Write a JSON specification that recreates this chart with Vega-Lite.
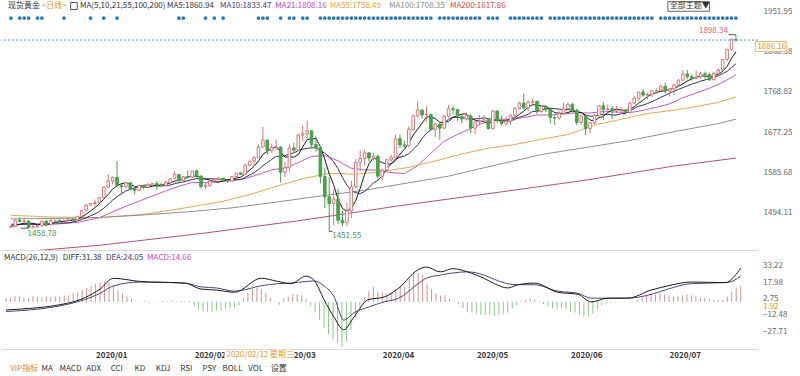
{
"$schema":"https://vega.github.io/schema/vega-lite/v6.json",
"padding":0,
"background":"#ffffff",
"spacing":2,
"config":{"view":{"stroke":null},"font":"Noto Sans CJK SC","axis":{"grid":false,"ticks":false,"domain":false,"title":null,"labelFontSize":8,"labelColor":"#666666","labelOverlap":false}},
"datasets":{
"k":[
{"i":0,"o":1461,"h":1466,"l":1460,"c":1463,"m5":1462,"m10":1466,"mh":4},
{"i":1,"o":1463,"h":1478,"l":1462,"c":1477,"m5":1465,"m10":1467,"mh":4},
{"i":2,"o":1477,"h":1484,"l":1472,"c":1474,"m5":1468,"m10":1467,"mh":5},
{"i":3,"o":1474,"h":1481,"l":1470,"c":1475,"m5":1470,"m10":1468,"mh":5},
{"i":4,"o":1475,"h":1477,"l":1458.78,"c":1460,"m5":1469.8,"m10":1468,"mh":4},
{"i":5,"o":1460,"h":1466,"l":1459.5,"c":1462,"m5":1469.6,"m10":1468,"mh":4},
{"i":6,"o":1462,"h":1467,"l":1460,"c":1465,"m5":1467.2,"m10":1468,"mh":5},
{"i":7,"o":1465,"h":1476,"l":1461,"c":1475,"m5":1467.4,"m10":1469,"mh":5},
{"i":8,"o":1475,"h":1477,"l":1463,"c":1467,"m5":1465.8,"m10":1468,"mh":4},
{"i":9,"o":1467,"h":1480,"l":1465,"c":1476,"m5":1469,"m10":1469.4,"mh":5},
{"i":10,"o":1476,"h":1478,"l":1472,"c":1476,"m5":1471.8,"m10":1470.7,"mh":5},
{"i":11,"o":1476,"h":1480,"l":1473,"c":1475,"m5":1473.8,"m10":1470.5,"mh":5},
{"i":12,"o":1475,"h":1479,"l":1473,"c":1476,"m5":1474,"m10":1470.7,"mh":5},
{"i":13,"o":1476,"h":1481,"l":1472,"c":1479,"m5":1476.4,"m10":1471.1,"mh":6},
{"i":14,"o":1479,"h":1481,"l":1476,"c":1478,"m5":1476.8,"m10":1472.9,"mh":6},
{"i":15,"o":1478,"h":1486,"l":1477,"c":1486,"m5":1478.8,"m10":1475.3,"mh":8},
{"i":16,"o":1486,"h":1500,"l":1485,"c":1499,"m5":1483.6,"m10":1478.7,"mh":9},
{"i":17,"o":1500,"h":1514,"l":1498,"c":1511,"m5":1490.6,"m10":1482.3,"mh":11},
{"i":18,"o":1511,"h":1516,"l":1509,"c":1515,"m5":1497.8,"m10":1487.1,"mh":13},
{"i":19,"o":1515,"h":1524,"l":1510,"c":1517,"m5":1505.6,"m10":1491.2,"mh":15},
{"i":20,"o":1517,"h":1529,"l":1516,"c":1528,"m5":1514,"m10":1496.4,"mh":17},
{"i":21,"o":1528,"h":1553,"l":1526,"c":1552,"m5":1524.6,"m10":1504.1,"mh":18},
{"i":22,"o":1552,"h":1582,"l":1551,"c":1566,"m5":1535.6,"m10":1513.1,"mh":19},
{"i":23,"o":1566,"h":1576,"l":1558,"c":1574,"m5":1547.4,"m10":1522.6,"mh":18},
{"i":24,"o":1574,"h":1611,"l":1553,"c":1556,"m5":1555.2,"m10":1530.4,"mh":15},
{"i":25,"o":1556,"h":1560,"l":1535,"c":1553,"m5":1560.2,"m10":1537.1,"mh":11},
{"i":26,"o":1553,"h":1563,"l":1549,"c":1562,"m5":1562.2,"m10":1543.4,"mh":8},
{"i":27,"o":1562,"h":1563,"l":1545,"c":1548,"m5":1558.6,"m10":1547.1,"mh":5},
{"i":28,"o":1548,"h":1550,"l":1536,"c":1545,"m5":1552.8,"m10":1550.1,"mh":3},
{"i":29,"o":1545,"h":1558,"l":1544,"c":1556,"m5":1552.8,"m10":1554,"mh":1},
{"i":30,"o":1556,"h":1557,"l":1547,"c":1552,"m5":1552.6,"m10":1556.4,"mh":0.5},
{"i":31,"o":1552,"h":1561,"l":1550,"c":1557,"m5":1551.6,"m10":1556.9,"mh":0.8},
{"i":32,"o":1557,"h":1562,"l":1554,"c":1560,"m5":1554,"m10":1556.3,"mh":-0.5},
{"i":33,"o":1560,"h":1566,"l":1546,"c":1558,"m5":1556.6,"m10":1554.7,"mh":0.5},
{"i":34,"o":1558,"h":1562,"l":1553,"c":1556,"m5":1556.6,"m10":1554.7,"mh":-0.4},
{"i":35,"o":1556,"h":1566,"l":1552,"c":1563,"m5":1558.8,"m10":1555.7,"mh":0.6},
{"i":36,"o":1563,"h":1573,"l":1560,"c":1571,"m5":1561.6,"m10":1556.6,"mh":0.8},
{"i":37,"o":1571,"h":1588,"l":1570,"c":1581,"m5":1565.8,"m10":1559.9,"mh":1},
{"i":38,"o":1581,"h":1582,"l":1563,"c":1567,"m5":1567.6,"m10":1562.1,"mh":0.5},
{"i":39,"o":1567,"h":1577,"l":1566,"c":1576,"m5":1571.6,"m10":1564.1,"mh":0.8},
{"i":40,"o":1576,"h":1590,"l":1573,"c":1575,"m5":1574,"m10":1566.4,"mh":0.5},
{"i":41,"o":1575,"h":1589,"l":1573,"c":1589,"m5":1577.6,"m10":1569.6,"mh":1},
{"i":42,"o":1589,"h":1592,"l":1572,"c":1577,"m5":1576.8,"m10":1571.3,"mh":-4},
{"i":43,"o":1577,"h":1579,"l":1549,"c":1553,"m5":1574,"m10":1570.8,"mh":-7},
{"i":44,"o":1553,"h":1563,"l":1547,"c":1556,"m5":1570,"m10":1570.8,"mh":-9},
{"i":45,"o":1556,"h":1568,"l":1553,"c":1566,"m5":1568.2,"m10":1571.1,"mh":-9},
{"i":46,"o":1566,"h":1573,"l":1562,"c":1570,"m5":1564.4,"m10":1571,"mh":-9},
{"i":47,"o":1570,"h":1576,"l":1567,"c":1572,"m5":1563.4,"m10":1570.1,"mh":-8},
{"i":48,"o":1572,"h":1574,"l":1563,"c":1567,"m5":1566.2,"m10":1570.1,"mh":-8},
{"i":49,"o":1567,"h":1570,"l":1562,"c":1566,"m5":1568.2,"m10":1569.1,"mh":-7},
{"i":50,"o":1566,"h":1578,"l":1563,"c":1576,"m5":1570.2,"m10":1569.2,"mh":-6},
{"i":51,"o":1576,"h":1585,"l":1572,"c":1584,"m5":1573,"m10":1568.7,"mh":-5},
{"i":52,"o":1584,"h":1586,"l":1579,"c":1581,"m5":1574.8,"m10":1569.1,"mh":-3},
{"i":53,"o":1581,"h":1604,"l":1579,"c":1602,"m5":1581.8,"m10":1574,"mh":4},
{"i":54,"o":1602,"h":1612,"l":1599,"c":1611,"m5":1590.8,"m10":1579.5,"mh":8},
{"i":55,"o":1611,"h":1623,"l":1600,"c":1619,"m5":1599.4,"m10":1584.8,"mh":12},
{"i":56,"o":1619,"h":1649,"l":1618,"c":1643,"m5":1611.2,"m10":1592.1,"mh":13},
{"i":57,"o":1643,"h":1689,"l":1643,"c":1659,"m5":1626.8,"m10":1600.8,"mh":12},
{"i":58,"o":1659,"h":1660,"l":1625,"c":1635,"m5":1633.4,"m10":1607.6,"mh":8},
{"i":59,"o":1635,"h":1651,"l":1630,"c":1642,"m5":1639.6,"m10":1615.2,"mh":4},
{"i":60,"o":1642,"h":1660,"l":1636,"c":1643,"m5":1644.2,"m10":1621.8,"mh":0.5},
{"i":61,"o":1643,"h":1645,"l":1563,"c":1586,"m5":1632.8,"m10":1622,"mh":-3},
{"i":62,"o":1586,"h":1610,"l":1575,"c":1596,"m5":1620.2,"m10":1623.5,"mh":3},
{"i":63,"o":1596,"h":1649,"l":1586,"c":1641,"m5":1621.4,"m10":1627.4,"mh":5},
{"i":64,"o":1641,"h":1653,"l":1632,"c":1636,"m5":1620.2,"m10":1629.9,"mh":7},
{"i":65,"o":1636,"h":1674,"l":1635,"c":1670,"m5":1625.8,"m10":1635,"mh":7},
{"i":66,"o":1670,"h":1692,"l":1656,"c":1673,"m5":1643.2,"m10":1638,"mh":6},
{"i":67,"o":1673,"h":1703,"l":1661,"c":1680,"m5":1660,"m10":1640.1,"mh":3},
{"i":68,"o":1680,"h":1681,"l":1640,"c":1649,"m5":1661.6,"m10":1641.5,"mh":-4},
{"i":69,"o":1649,"h":1667,"l":1633,"c":1642,"m5":1662.8,"m10":1641.5,"mh":-10},
{"i":70,"o":1642,"h":1645,"l":1560,"c":1576,"m5":1644,"m10":1634.9,"mh":-17},
{"i":71,"o":1576,"h":1597,"l":1504,"c":1530,"m5":1615.4,"m10":1629.3,"mh":-24},
{"i":72,"o":1530,"h":1575,"l":1451.55,"c":1515,"m5":1582.4,"m10":1621.2,"mh":-30},
{"i":73,"o":1515,"h":1547,"l":1466,"c":1525,"m5":1557.6,"m10":1609.6,"mh":-35},
{"i":74,"o":1525,"h":1548,"l":1468,"c":1477,"m5":1524.6,"m10":1593.7,"mh":-38},
{"i":75,"o":1477,"h":1499,"l":1463,"c":1471,"m5":1503.6,"m10":1573.8,"mh":-42},
{"i":76,"o":1471,"h":1516,"l":1464,"c":1498,"m5":1497.2,"m10":1556.3,"mh":-37},
{"i":77,"o":1498,"h":1567,"l":1482,"c":1553,"m5":1504.8,"m10":1543.6,"mh":-26},
{"i":78,"o":1553,"h":1616,"l":1550,"c":1608,"m5":1521.4,"m10":1539.5,"mh":-15},
{"i":79,"o":1608,"h":1635,"l":1588,"c":1617,"m5":1549.4,"m10":1537,"mh":-6},
{"i":80,"o":1617,"h":1637,"l":1601,"c":1630,"m5":1581.2,"m10":1542.4,"mh":4},
{"i":81,"o":1630,"h":1631,"l":1610,"c":1618,"m5":1605.2,"m10":1551.2,"mh":10},
{"i":82,"o":1618,"h":1630,"l":1612,"c":1622,"m5":1619,"m10":1561.9,"mh":14},
{"i":83,"o":1622,"h":1626,"l":1568,"c":1577,"m5":1612.8,"m10":1567.1,"mh":10},
{"i":84,"o":1577,"h":1594,"l":1567,"c":1591,"m5":1607.6,"m10":1578.5,"mh":9},
{"i":85,"o":1591,"h":1617,"l":1588,"c":1614,"m5":1604.4,"m10":1592.8,"mh":8},
{"i":86,"o":1614,"h":1625,"l":1608,"c":1620,"m5":1604.8,"m10":1605,"mh":9},
{"i":87,"o":1620,"h":1672,"l":1619,"c":1662,"m5":1612.8,"m10":1615.9,"mh":12},
{"i":88,"o":1662,"h":1671,"l":1641,"c":1648,"m5":1627,"m10":1619.9,"mh":14},
{"i":89,"o":1648,"h":1658,"l":1640,"c":1646,"m5":1638,"m10":1622.8,"mh":14},
{"i":90,"o":1646,"h":1690,"l":1642,"c":1683,"m5":1651.8,"m10":1628.1,"mh":22},
{"i":91,"o":1683,"h":1717,"l":1680,"c":1714,"m5":1670.6,"m10":1637.7,"mh":28},
{"i":92,"o":1714,"h":1747,"l":1710,"c":1727,"m5":1683.6,"m10":1648.2,"mh":27},
{"i":93,"o":1727,"h":1729,"l":1708,"c":1716,"m5":1697.2,"m10":1662.1,"mh":25},
{"i":94,"o":1716,"h":1736,"l":1701,"c":1717,"m5":1711.4,"m10":1674.7,"mh":17},
{"i":95,"o":1717,"h":1718,"l":1680,"c":1683,"m5":1711.4,"m10":1681.6,"mh":12},
{"i":96,"o":1683,"h":1698,"l":1666,"c":1695,"m5":1707.6,"m10":1689.1,"mh":8},
{"i":97,"o":1695,"h":1699,"l":1660,"c":1686,"m5":1699.4,"m10":1691.5,"mh":6},
{"i":98,"o":1686,"h":1716,"l":1684,"c":1713,"m5":1698.8,"m10":1698,"mh":6},
{"i":99,"o":1713,"h":1739,"l":1710,"c":1730,"m5":1701.4,"m10":1706.4,"mh":3},
{"i":100,"o":1730,"h":1738,"l":1717,"c":1728,"m5":1710.4,"m10":1710.9,"mh":1},
{"i":101,"o":1728,"h":1729,"l":1702,"c":1713,"m5":1714,"m10":1710.8,"mh":-2},
{"i":102,"o":1713,"h":1718,"l":1697,"c":1707,"m5":1718.2,"m10":1708.8,"mh":-6},
{"i":103,"o":1707,"h":1722,"l":1703,"c":1714,"m5":1718.4,"m10":1708.6,"mh":-9},
{"i":104,"o":1714,"h":1718,"l":1675,"c":1686,"m5":1709.6,"m10":1705.5,"mh":-10},
{"i":105,"o":1686,"h":1703,"l":1673,"c":1700,"m5":1704,"m10":1707.2,"mh":-11},
{"i":106,"o":1700,"h":1716,"l":1693,"c":1702,"m5":1701.8,"m10":1707.9,"mh":-12},
{"i":107,"o":1702,"h":1716,"l":1695,"c":1705,"m5":1701.4,"m10":1709.8,"mh":-12},
{"i":108,"o":1705,"h":1709,"l":1683,"c":1685,"m5":1695.6,"m10":1707,"mh":-12},
{"i":109,"o":1685,"h":1727,"l":1683,"c":1725,"m5":1703.4,"m10":1706.5,"mh":-13},
{"i":110,"o":1725,"h":1727,"l":1698,"c":1703,"m5":1704,"m10":1704,"mh":-12},
{"i":111,"o":1703,"h":1715,"l":1692,"c":1697,"m5":1703,"m10":1702.4,"mh":-11},
{"i":112,"o":1697,"h":1712,"l":1692,"c":1702,"m5":1702.4,"m10":1701.9,"mh":-10},
{"i":113,"o":1702,"h":1717,"l":1694,"c":1715,"m5":1708.4,"m10":1702,"mh":-6},
{"i":114,"o":1715,"h":1734,"l":1703,"c":1731,"m5":1709.6,"m10":1706.5,"mh":-3},
{"i":115,"o":1731,"h":1746,"l":1729,"c":1743,"m5":1717.6,"m10":1710.8,"mh":1},
{"i":116,"o":1743,"h":1765,"l":1728,"c":1732,"m5":1724.6,"m10":1713.8,"mh":2},
{"i":117,"o":1732,"h":1749,"l":1725,"c":1745,"m5":1733.2,"m10":1717.8,"mh":3},
{"i":118,"o":1745,"h":1753,"l":1740,"c":1747,"m5":1739.6,"m10":1724,"mh":2},
{"i":119,"o":1747,"h":1748,"l":1718,"c":1724,"m5":1738.2,"m10":1723.9,"mh":0.5},
{"i":120,"o":1724,"h":1738,"l":1721,"c":1735,"m5":1736.6,"m10":1727.1,"mh":-2},
{"i":121,"o":1735,"h":1737,"l":1722,"c":1728,"m5":1735.8,"m10":1730.2,"mh":-4},
{"i":122,"o":1728,"h":1734,"l":1697,"c":1710,"m5":1728.8,"m10":1731,"mh":-6},
{"i":123,"o":1710,"h":1716,"l":1694,"c":1709,"m5":1721.2,"m10":1730.4,"mh":-7},
{"i":124,"o":1709,"h":1725,"l":1705,"c":1719,"m5":1720.2,"m10":1729.2,"mh":-6},
{"i":125,"o":1719,"h":1744,"l":1716,"c":1730,"m5":1719.2,"m10":1727.9,"mh":-7},
{"i":126,"o":1730,"h":1745,"l":1725,"c":1740,"m5":1721.6,"m10":1728.7,"mh":-9},
{"i":127,"o":1740,"h":1744,"l":1723,"c":1727,"m5":1725,"m10":1726.9,"mh":-10},
{"i":128,"o":1727,"h":1729,"l":1693,"c":1699,"m5":1723,"m10":1722.1,"mh":-12},
{"i":129,"o":1699,"h":1716,"l":1694,"c":1714,"m5":1722,"m10":1721.1,"mh":-14},
{"i":130,"o":1714,"h":1718,"l":1670,"c":1685,"m5":1713,"m10":1716.1,"mh":-14},
{"i":131,"o":1685,"h":1700,"l":1674,"c":1698,"m5":1704.6,"m10":1713.1,"mh":-11},
{"i":132,"o":1698,"h":1718,"l":1694,"c":1715,"m5":1702.2,"m10":1713.6,"mh":-7},
{"i":133,"o":1715,"h":1739,"l":1712,"c":1737,"m5":1709.8,"m10":1716.4,"mh":-3},
{"i":134,"o":1737,"h":1745,"l":1705,"c":1728,"m5":1712.6,"m10":1717.3,"mh":-1.5},
{"i":135,"o":1728,"h":1740,"l":1714,"c":1730,"m5":1721.6,"m10":1717.3,"mh":-1},
{"i":136,"o":1730,"h":1736,"l":1707,"c":1725,"m5":1727,"m10":1715.8,"mh":-0.8},
{"i":137,"o":1725,"h":1736,"l":1720,"c":1727,"m5":1729.4,"m10":1715.8,"mh":-0.5},
{"i":138,"o":1726,"h":1734,"l":1721,"c":1727,"m5":1727.4,"m10":1718.6,"mh":-0.5},
{"i":139,"o":1727,"h":1730,"l":1716,"c":1722,"m5":1726.2,"m10":1719.4,"mh":-0.3},
{"i":140,"o":1722,"h":1746,"l":1719,"c":1743,"m5":1728.8,"m10":1725.2,"mh":0.3},
{"i":141,"o":1743,"h":1760,"l":1741,"c":1754,"m5":1734.6,"m10":1730.8,"mh":2},
{"i":142,"o":1754,"h":1768,"l":1749,"c":1768,"m5":1742.8,"m10":1736.1,"mh":4},
{"i":143,"o":1768,"h":1775,"l":1757,"c":1761,"m5":1749.6,"m10":1738.5,"mh":6},
{"i":144,"o":1761,"h":1767,"l":1751,"c":1763,"m5":1757.8,"m10":1742,"mh":7},
{"i":145,"o":1763,"h":1772,"l":1756,"c":1771,"m5":1763.4,"m10":1746.1,"mh":7},
{"i":146,"o":1771,"h":1776,"l":1764,"c":1772,"m5":1767,"m10":1750.8,"mh":8},
{"i":147,"o":1772,"h":1785,"l":1770,"c":1781,"m5":1769.6,"m10":1756.2,"mh":7},
{"i":148,"o":1781,"h":1789,"l":1764,"c":1770,"m5":1771.4,"m10":1760.5,"mh":6},
{"i":149,"o":1770,"h":1777,"l":1758,"c":1775,"m5":1773.8,"m10":1765.8,"mh":5},
{"i":150,"o":1775,"h":1786,"l":1762,"c":1784,"m5":1776.4,"m10":1769.9,"mh":5},
{"i":151,"o":1784,"h":1797,"l":1782,"c":1795,"m5":1781,"m10":1774,"mh":6},
{"i":152,"o":1795,"h":1818,"l":1794,"c":1809,"m5":1786.6,"m10":1778.1,"mh":7},
{"i":153,"o":1809,"h":1818,"l":1797,"c":1803,"m5":1793.2,"m10":1782.3,"mh":6},
{"i":154,"o":1803,"h":1808,"l":1794,"c":1799,"m5":1798,"m10":1785.9,"mh":5},
{"i":155,"o":1799,"h":1817,"l":1797,"c":1802,"m5":1801.6,"m10":1789,"mh":4},
{"i":156,"o":1802,"h":1814,"l":1799,"c":1810,"m5":1804.6,"m10":1792.8,"mh":4},
{"i":157,"o":1810,"h":1815,"l":1798,"c":1808,"m5":1804.4,"m10":1795.5,"mh":3},
{"i":158,"o":1808,"h":1812,"l":1793,"c":1796,"m5":1803,"m10":1798.1,"mh":2},
{"i":159,"o":1796,"h":1814,"l":1795,"c":1810,"m5":1805.2,"m10":1801.6,"mh":1.5},
{"i":160,"o":1810,"h":1821,"l":1806,"c":1818,"m5":1808.4,"m10":1805,"mh":2},
{"i":161,"o":1818,"h":1843,"l":1815,"c":1842,"m5":1814.8,"m10":1809.7,"mh":5},
{"i":162,"o":1842,"h":1866,"l":1838,"c":1865,"m5":1826.2,"m10":1815.3,"mh":9},
{"i":163,"o":1865,"h":1890,"l":1862,"c":1887,"m5":1844.4,"m10":1823.7,"mh":13},
{"i":164,"o":1887,"h":1898.34,"l":1882,"c":1886.16,"m5":1859.6,"m10":1832.4,"mh":14.66}
],
"ma":[
{"s":"MA21","i":0,"v":1468},{"s":"MA21","i":5,"v":1467},{"s":"MA21","i":10,"v":1468},{"s":"MA21","i":15,"v":1472},{"s":"MA21","i":20,"v":1482.6},{"s":"MA21","i":23,"v":1495.8},{"s":"MA21","i":26,"v":1508.9},{"s":"MA21","i":29,"v":1520.4},{"s":"MA21","i":32,"v":1531.9},{"s":"MA21","i":35,"v":1543.5},{"s":"MA21","i":38,"v":1554.1},{"s":"MA21","i":41,"v":1562.7},{"s":"MA21","i":44,"v":1562.4},{"s":"MA21","i":47,"v":1564.2},{"s":"MA21","i":50,"v":1567},{"s":"MA21","i":53,"v":1571.7},{"s":"MA21","i":56,"v":1581},{"s":"MA21","i":59,"v":1591.4},{"s":"MA21","i":62,"v":1595.4},{"s":"MA21","i":65,"v":1607.8},{"s":"MA21","i":68,"v":1621.8},{"s":"MA21","i":71,"v":1623.7},{"s":"MA21","i":74,"v":1611.8},{"s":"MA21","i":77,"v":1595},{"s":"MA21","i":80,"v":1591.2},{"s":"MA21","i":83,"v":1590.9},{"s":"MA21","i":86,"v":1585},{"s":"MA21","i":89,"v":1582.9},{"s":"MA21","i":92,"v":1600.8},{"s":"MA21","i":95,"v":1629.3},{"s":"MA21","i":98,"v":1656.5},{"s":"MA21","i":101,"v":1671.6},{"s":"MA21","i":104,"v":1685.4},{"s":"MA21","i":107,"v":1698.8},{"s":"MA21","i":110,"v":1706.3},{"s":"MA21","i":113,"v":1705.8},{"s":"MA21","i":116,"v":1710.1},{"s":"MA21","i":119,"v":1715.9},{"s":"MA21","i":122,"v":1716},{"s":"MA21","i":125,"v":1718.4},{"s":"MA21","i":128,"v":1721.2},{"s":"MA21","i":131,"v":1720.5},{"s":"MA21","i":134,"v":1723.6},{"s":"MA21","i":137,"v":1722.5},{"s":"MA21","i":140,"v":1721.3},{"s":"MA21","i":143,"v":1726.6},{"s":"MA21","i":146,"v":1733.6},{"s":"MA21","i":149,"v":1741.2},{"s":"MA21","i":152,"v":1755.1},{"s":"MA21","i":155,"v":1765.8},{"s":"MA21","i":158,"v":1776.8},{"s":"MA21","i":161,"v":1790},{"s":"MA21","i":164,"v":1807},
{"s":"MA55","i":0,"v":1488},{"s":"MA55","i":10,"v":1484},{"s":"MA55","i":20,"v":1483},{"s":"MA55","i":30,"v":1490},{"s":"MA55","i":40,"v":1506},{"s":"MA55","i":48,"v":1520},{"s":"MA55","i":54,"v":1535.1},{"s":"MA55","i":60,"v":1553.8},{"s":"MA55","i":66,"v":1571.4},{"s":"MA55","i":72,"v":1583.5},{"s":"MA55","i":78,"v":1581.3},{"s":"MA55","i":84,"v":1587.4},{"s":"MA55","i":90,"v":1597},{"s":"MA55","i":96,"v":1611.4},{"s":"MA55","i":102,"v":1627.5},{"s":"MA55","i":108,"v":1640.5},{"s":"MA55","i":114,"v":1648.9},{"s":"MA55","i":120,"v":1660.8},{"s":"MA55","i":126,"v":1671.5},{"s":"MA55","i":132,"v":1693.3},{"s":"MA55","i":138,"v":1706},{"s":"MA55","i":144,"v":1719.3},{"s":"MA55","i":150,"v":1726.8},{"s":"MA55","i":156,"v":1736.9},{"s":"MA55","i":160,"v":1744.6},{"s":"MA55","i":164,"v":1756.7},
{"s":"MA100","i":0,"v":1480},{"s":"MA100","i":10,"v":1481},{"s":"MA100","i":20,"v":1483},{"s":"MA100","i":30,"v":1489},{"s":"MA100","i":40,"v":1496},{"s":"MA100","i":50,"v":1505},{"s":"MA100","i":60,"v":1518},{"s":"MA100","i":70,"v":1532},{"s":"MA100","i":80,"v":1545},{"s":"MA100","i":90,"v":1562},{"s":"MA100","i":99,"v":1577.1},{"s":"MA100","i":110,"v":1603},{"s":"MA100","i":120,"v":1626.1},{"s":"MA100","i":130,"v":1642.1},{"s":"MA100","i":140,"v":1658},{"s":"MA100","i":150,"v":1678},{"s":"MA100","i":160,"v":1696.4},{"s":"MA100","i":164,"v":1706.6},
{"s":"MA200","i":0,"v":1403},{"s":"MA200","i":20,"v":1420},{"s":"MA200","i":44,"v":1448},{"s":"MA200","i":66,"v":1477},{"s":"MA200","i":88,"v":1510},{"s":"MA200","i":110,"v":1540},{"s":"MA200","i":130,"v":1568},{"s":"MA200","i":150,"v":1600},{"s":"MA200","i":164,"v":1618}
],
"dd":[
{"i":0,"d":-7.5,"e":-9},{"i":14,"d":-1,"e":-2},{"i":21,"d":12,"e":8},{"i":24,"d":22,"e":15},{"i":30,"d":19,"e":18.5},{"i":40,"d":17.5,"e":17.5},{"i":43.5,"d":12,"e":14},{"i":47,"d":11,"e":13},{"i":51,"d":9,"e":10},{"i":57,"d":22,"e":15},{"i":60.7,"d":19,"e":17},{"i":63.6,"d":17,"e":17.5},{"i":67,"d":24,"e":19},{"i":68.8,"d":20,"e":19.5},{"i":71,"d":2,"e":15},{"i":73.2,"d":-14,"e":5},{"i":75.4,"d":-26,"e":-17},{"i":77.7,"d":-14,"e":-10},{"i":80.8,"d":2,"e":-5},{"i":84.4,"d":4.5,"e":0},{"i":87.7,"d":13,"e":3.5},{"i":92,"d":30,"e":17},{"i":93.8,"d":32.5,"e":22},{"i":97,"d":28,"e":25},{"i":99.8,"d":31,"e":27},{"i":103,"d":28,"e":28},{"i":106.7,"d":22,"e":25},{"i":109,"d":17,"e":21},{"i":112,"d":13,"e":17},{"i":114.3,"d":16,"e":16},{"i":117.9,"d":17.5,"e":16},{"i":123.2,"d":9,"e":10},{"i":127.7,"d":7,"e":8},{"i":130.6,"d":0,"e":3.5},{"i":134.4,"d":3.5,"e":3.5},{"i":138.8,"d":3.5,"e":3.5},{"i":144,"d":11,"e":7},{"i":147.8,"d":15,"e":12},{"i":152.9,"d":18.5,"e":17},{"i":160.7,"d":18,"e":18},{"i":162.5,"d":23.5,"e":20},{"i":164,"d":31.38,"e":24.05}
],
"mt":[{"v":33.22},{"v":17.98},{"v":2.75},{"v":-12.48},{"v":-27.71}],
"dots":[
{"i":0},{"i":2},{"i":3},{"i":4},{"i":6},{"i":7},{"i":12},{"i":18},{"i":21},{"i":24},{"i":38},{"i":39},{"i":44},{"i":46},{"i":48},{"i":56},{"i":57},{"i":58},{"i":61},{"i":63},{"i":64},{"i":66},{"i":67},{"i":70},
{"i":71},{"i":72},{"i":73},{"i":74},{"i":75},{"i":76},{"i":77},{"i":78},{"i":79},{"i":80},{"i":81},{"i":82},{"i":83},{"i":84},{"i":85},{"i":86},{"i":87},{"i":88},{"i":89},{"i":90},{"i":91},{"i":92},{"i":93},{"i":94},{"i":95},
{"i":97},{"i":98},{"i":99},{"i":100},{"i":101},{"i":102},{"i":103},{"i":104},{"i":105},{"i":106},
{"i":108},{"i":109},{"i":110},
{"i":113},{"i":114},{"i":115},{"i":116},{"i":117},{"i":118},{"i":119},{"i":120},
{"i":122},{"i":123},{"i":124},{"i":125},{"i":126},{"i":127},{"i":128},{"i":129},{"i":130},{"i":131},{"i":132},{"i":133},{"i":134},{"i":135},{"i":136},{"i":137},{"i":138},{"i":139},{"i":140},{"i":141},{"i":142},{"i":143},{"i":144},{"i":145},
{"i":147},{"i":148},{"i":149},{"i":150},{"i":151},{"i":152},{"i":153},{"i":154},{"i":155},{"i":156},{"i":157},{"i":158},{"i":159},{"i":160},{"i":161},{"i":162},{"i":163},{"i":164}
],
"tb":[{"t":"VIP指标"},{"t":"MA"},{"t":"MACD"},{"t":"ADX"},{"t":"CCI"},{"t":"KD"},{"t":"KDJ"},{"t":"RSI"},{"t":"PSY"},{"t":"BOLL"},{"t":"VOL"},{"t":"设置"}]
},
"vconcat":[
{
"width":757,"height":250,
"layer":[
{"data":{"name":"ma"},"mark":{"type":"line","strokeWidth":1,"clip":true},
 "encoding":{"x":{"field":"i","type":"quantitative","scale":{"domain":[-1.116,167.86],"nice":false,"zero":false},"axis":{"labels":false,"domain":true,"domainColor":"#d9d9d9"}},
 "y":{"field":"v","type":"quantitative","scale":{"domain":[1409.3,1977.1],"nice":false,"zero":false},"axis":{"orient":"right","values":[1494.11,1585.68,1677.25,1768.82,1860.38,1951.95],"format":".2f","labelPadding":5}},
 "color":{"field":"s","type":"nominal","scale":{"domain":["MA21","MA55","MA100","MA200"],"range":["#c25ac2","#e2aa55","#8f8f8f","#b4506e"]},"legend":null}}},
{"data":{"name":"k"},"mark":{"type":"line","strokeWidth":1,"color":"#33335e","clip":true},
 "encoding":{"x":{"field":"i","type":"quantitative"},"y":{"field":"m10","type":"quantitative"}}},
{"data":{"name":"k"},"mark":{"type":"line","strokeWidth":1,"color":"#1a1a1a","clip":true},
 "encoding":{"x":{"field":"i","type":"quantitative"},"y":{"field":"m5","type":"quantitative"}}},
{"data":{"name":"k"},"mark":{"type":"rule","strokeWidth":1},
 "encoding":{"x":{"field":"i","type":"quantitative"},"y":{"field":"l","type":"quantitative"},"y2":{"field":"h"},
 "color":{"condition":{"test":"datum.c>=datum.o","value":"#d07a7a"},"value":"#4e9e4e"}}},
{"data":{"name":"k"},"mark":{"type":"bar","size":2.6,"strokeWidth":1,"orient":"vertical"},
 "encoding":{"x":{"field":"i","type":"quantitative"},"y":{"field":"o","type":"quantitative"},"y2":{"field":"c"},
 "fill":{"condition":{"test":"datum.c>=datum.o","value":"#ffffff"},"value":"#4e9e4e"},
 "stroke":{"condition":{"test":"datum.c>=datum.o","value":"#d07a7a"},"value":"#4e9e4e"}}},
{"data":{"values":[{}]},"mark":{"type":"rule","strokeDash":[2,2],"color":"#3d9be0","strokeWidth":1},"encoding":{"y":{"datum":1886.16}}},
{"data":{"name":"dots"},"mark":{"type":"point","filled":true,"size":14,"color":"#2a78b8","opacity":1},
 "encoding":{"x":{"field":"i","type":"quantitative"},"y":{"datum":1936.2}}},
{"data":{"values":[{}]},"mark":{"type":"rule","color":"#555555","strokeWidth":1},"encoding":{"x":{"datum":162.4},"x2":{"datum":164},"y":{"datum":1898.34}}},
{"data":{"values":[{}]},"mark":{"type":"text","align":"right","baseline":"middle","fontSize":8,"dx":-1,"dy":-4,"color":"#d46a6a"},"encoding":{"x":{"datum":162.4},"y":{"datum":1898.34},"text":{"value":"1898.34"}}},
{"data":{"values":[{}]},"mark":{"type":"rule","color":"#555555","strokeWidth":1},"encoding":{"x":{"datum":72},"x2":{"datum":72.7},"y":{"datum":1451.55}}},
{"data":{"values":[{}]},"mark":{"type":"text","align":"left","baseline":"middle","fontSize":8,"dx":3,"dy":4.5,"color":"#4a9a4a"},"encoding":{"x":{"datum":72},"y":{"datum":1451.55},"text":{"value":"1451.55"}}},
{"data":{"values":[{}]},"mark":{"type":"rule","color":"#555555","strokeWidth":1},"encoding":{"x":{"datum":2.2},"x2":{"datum":4},"y":{"datum":1458.78}}},
{"data":{"values":[{}]},"mark":{"type":"text","align":"left","baseline":"middle","fontSize":8,"dx":-1,"dy":6,"color":"#4a9a4a"},"encoding":{"x":{"datum":4},"y":{"datum":1458.78},"text":{"value":"1458.78"}}},
{"data":{"values":[{}]},"mark":{"type":"rect","fill":"#ffffff","stroke":"#e8b878","strokeWidth":1},"encoding":{"x":{"datum":168.4},"x2":{"datum":175.5},"y":{"datum":1882.8},"y2":{"datum":1860.1}}},
{"data":{"values":[{}]},"mark":{"type":"text","align":"left","baseline":"middle","fontSize":8,"dx":2,"color":"#e0952a"},"encoding":{"x":{"datum":168.4},"y":{"datum":1871.4},"text":{"value":"1886.16"}}},
{"data":{"values":[{}]},"mark":{"type":"text","align":"left","baseline":"middle","fontSize":8,"color":"#333333"},"encoding":{"x":{"datum":-0.67},"y":{"datum":1963.2},"text":{"value":"现货黄金"}}},
{"data":{"values":[{}]},"mark":{"type":"text","align":"left","baseline":"middle","fontSize":8,"color":"#e0952a"},"encoding":{"x":{"datum":7.0},"y":{"datum":1963.2},"text":{"value":"<日线>"}}},
{"data":{"values":[{}]},"mark":{"type":"rect","fill":"#ffffff","stroke":"#555555","strokeWidth":1},"encoding":{"x":{"datum":13.5},"x2":{"datum":15.0},"y":{"datum":1971.5},"y2":{"datum":1955.5}}},
{"data":{"values":[{}]},"mark":{"type":"text","align":"left","baseline":"middle","fontSize":8,"color":"#333333"},"encoding":{"x":{"datum":15.6},"y":{"datum":1963.2},"text":{"value":"MA(5,10,21,55,100,200)"}}},
{"data":{"values":[{}]},"mark":{"type":"text","align":"left","baseline":"middle","fontSize":8,"color":"#333333"},"encoding":{"x":{"datum":35.3},"y":{"datum":1963.2},"text":{"value":"MA5:1860.94"}}},
{"data":{"values":[{}]},"mark":{"type":"text","align":"left","baseline":"middle","fontSize":8,"color":"#3b3b7d"},"encoding":{"x":{"datum":47.3},"y":{"datum":1963.2},"text":{"value":"MA10:1833.47"}}},
{"data":{"values":[{}]},"mark":{"type":"text","align":"left","baseline":"middle","fontSize":8,"color":"#cc44cc"},"encoding":{"x":{"datum":59.8},"y":{"datum":1963.2},"text":{"value":"MA21:1808.16"}}},
{"data":{"values":[{}]},"mark":{"type":"text","align":"left","baseline":"middle","fontSize":8,"color":"#eea040"},"encoding":{"x":{"datum":72.1},"y":{"datum":1963.2},"text":{"value":"MA55:1758.49"}}},
{"data":{"values":[{}]},"mark":{"type":"text","align":"left","baseline":"middle","fontSize":8,"color":"#8a8a8a"},"encoding":{"x":{"datum":85.5},"y":{"datum":1963.2},"text":{"value":"MA100:1708.35"}}},
{"data":{"values":[{}]},"mark":{"type":"text","align":"left","baseline":"middle","fontSize":8,"color":"#cc4444"},"encoding":{"x":{"datum":99.3},"y":{"datum":1963.2},"text":{"value":"MA200:1617.86"}}},
{"data":{"values":[{}]},"mark":{"type":"rect","fill":"#ffffff","stroke":"#666666","strokeWidth":1},"encoding":{"x":{"datum":148.6},"x2":{"datum":158.0},"y":{"datum":1973.4},"y2":{"datum":1951.5}}},
{"data":{"values":[{}]},"mark":{"type":"text","align":"left","baseline":"middle","fontSize":8,"dx":2,"color":"#333333"},"encoding":{"x":{"datum":148.6},"y":{"datum":1962.5},"text":{"value":"全部主题▼"}}}
]
},
{
"width":757,"height":97,
"layer":[
{"data":{"name":"k"},"mark":{"type":"rule","strokeWidth":1},
 "encoding":{"x":{"field":"i","type":"quantitative","scale":{"domain":[-1.116,167.86],"nice":false,"zero":false},
   "axis":{"values":[20,42,62,84,105,126,148],"labelExpr":"['2020/01','2020/02','2020/03','2020/04','2020/05','2020/06','2020/07'][indexof([20,42,62,84,105,126,148], datum.value)]","labelAlign":"left","labelFontWeight":"bold","labelColor":"#333333","labelPadding":2,"domain":true,"domainColor":"#d9d9d9","labelFlush":false,"labelOverlap":false}},
 "y":{"field":"mh","type":"quantitative","scale":{"domain":[-43.9,46.5],"nice":false,"zero":false},"axis":{"orient":"right","labels":false}},
 "y2":{"datum":0},
 "color":{"condition":{"test":"datum.mh>=0","value":"#c99595"},"value":"#8fc48f"}}},
{"data":{"name":"dd"},"mark":{"type":"line","strokeWidth":1,"color":"#4a4a6e","interpolate":"monotone"},
 "encoding":{"x":{"field":"i","type":"quantitative"},"y":{"field":"e","type":"quantitative","axis":{"orient":"right","labels":false}}}},
{"data":{"name":"dd"},"mark":{"type":"line","strokeWidth":1,"color":"#1a1a1a","interpolate":"monotone"},
 "encoding":{"x":{"field":"i","type":"quantitative"},"y":{"field":"d","type":"quantitative","axis":{"orient":"right","labels":false}}}},
{"data":{"name":"mt"},"mark":{"type":"text","align":"left","baseline":"middle","fontSize":8,"dx":5,"color":"#666666"},
 "encoding":{"x":{"datum":167.86},"y":{"field":"v","type":"quantitative"},"text":{"field":"v","type":"quantitative","format":".2f"}}},
{"data":{"values":[{}]},"mark":{"type":"text","align":"left","baseline":"middle","fontSize":8,"color":"#333333"},"encoding":{"x":{"datum":-0.45},"y":{"datum":40.9},"text":{"value":"MACD(26,12,9)"}}},
{"data":{"values":[{}]},"mark":{"type":"text","align":"left","baseline":"middle","fontSize":8,"color":"#333333"},"encoding":{"x":{"datum":12.65},"y":{"datum":40.9},"text":{"value":"DIFF:31.38"}}},
{"data":{"values":[{}]},"mark":{"type":"text","align":"left","baseline":"middle","fontSize":8,"color":"#3b3b7d"},"encoding":{"x":{"datum":22.3},"y":{"datum":40.9},"text":{"value":"DEA:24.05"}}},
{"data":{"values":[{}]},"mark":{"type":"text","align":"left","baseline":"middle","fontSize":8,"color":"#cc44cc"},"encoding":{"x":{"datum":31.5},"y":{"datum":40.9},"text":{"value":"MACD:14.66"}}},
{"data":{"values":[{}]},"mark":{"type":"text","align":"left","baseline":"middle","fontSize":8,"dx":5,"color":"#e0952a"},"encoding":{"x":{"datum":167.86},"y":{"datum":-5},"text":{"value":"1.92"}}},
{"data":{"values":[{}]},"mark":{"type":"rect","fill":"#ffffff"},"encoding":{"x":{"datum":48.8},"x2":{"datum":64.2},"y":{"datum":-46.3},"y2":{"datum":-53.5}}},
{"data":{"values":[{}]},"mark":{"type":"text","align":"left","baseline":"middle","fontSize":8,"dx":1,"color":"#e8962c"},"encoding":{"x":{"datum":49},"y":{"datum":-49.2},"text":{"value":"2020/02/12 星期三"}}}
]
},
{
"width":301,"height":14,
"data":{"name":"tb"},
"mark":{"type":"text","fontSize":8,"baseline":"middle"},
"encoding":{"x":{"field":"t","type":"nominal","sort":null,"scale":{"type":"point","padding":1.2},"axis":null},
 "text":{"field":"t"},
 "color":{"condition":{"test":"datum.t==='VIP指标'","value":"#e08a00"},"value":"#333333"}}
}
]
}
